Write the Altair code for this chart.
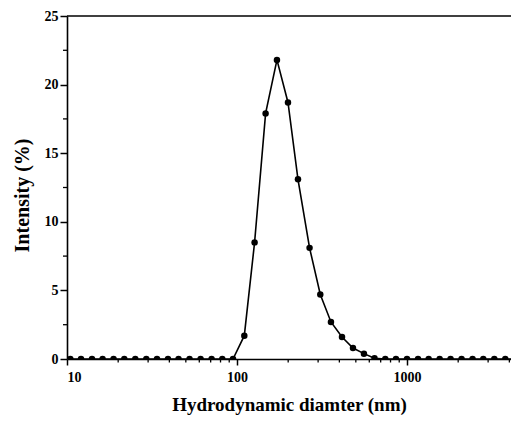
import altair as alt
import pandas as pd

sizes = [10.46, 12.09, 14.03, 16.20, 18.79, 21.73, 25.22, 29.27, 33.84, 39.26,
         45.30, 52.58, 61.07, 70.88, 81.94, 94.73, 110.4, 126.9, 147.3, 171.8,
         199.5, 228.4, 267.2, 309.0, 357.0, 414.6, 481.0, 558.0, 644.0, 745.0,
         861.0, 1000.0, 1161.0, 1341.0, 1556.0, 1804.0, 2094.0, 2430.0, 2810.0,
         3263.0, 3785.0, 4375.0]
intensity = [0, 0, 0, 0, 0, 0, 0, 0, 0, 0,
             0, 0, 0, 0, 0, 0, 1.7, 8.5, 17.9, 21.8,
             18.7, 13.1, 8.1, 4.7, 2.7, 1.6, 0.8, 0.39, 0.05, 0,
             0, 0, 0, 0, 0, 0, 0, 0, 0,
             0, 0, 0]

x_major = [10, 100, 1000]
x_minor = [20, 30, 40, 50, 60, 70, 80, 90, 200, 300, 400, 500, 600, 700, 800,
           900, 2000, 3000, 4000]
y_major = [0, 5, 10, 15, 20, 25]
y_minor = [2.5, 7.5, 12.5, 17.5, 22.5]

W, H = 444, 343
FONT = "Liberation Serif"

df = pd.DataFrame({"size": sizes, "intensity": intensity})
xscale = alt.Scale(type="log", domain=[10, 4090])
yscale = alt.Scale(domain=[0, 25])

base = alt.Chart(df)

line = base.mark_line(color="black", strokeWidth=1.6, clip=True).encode(
    x=alt.X("size:Q", scale=xscale,
            axis=alt.Axis(values=x_major, format="d", title="Hydrodynamic diamter (nm)",
                          tickSize=6, tickWidth=1.5, tickColor="black",
                          domainColor="black", domainWidth=1.6, grid=False,
                          labelFont=FONT, labelFontWeight="bold", labelFontSize=14,
                          labelColor="black", labelPadding=5,
                          titleFont=FONT, titleFontWeight="bold", titleFontSize=19,
                          titleColor="black", titlePadding=11)),
    y=alt.Y("intensity:Q", scale=yscale,
            axis=alt.Axis(values=y_major, title="Intensity (%)",
                          tickSize=7, tickWidth=1.5, tickColor="black",
                          domainColor="black", domainWidth=1.6, grid=False,
                          labelFont=FONT, labelFontWeight="bold", labelFontSize=14,
                          labelColor="black", labelPadding=2,
                          titleFont=FONT, titleFontWeight="bold", titleFontSize=20,
                          titleColor="black", titlePadding=12, titleY=179)),
)

points = base.mark_circle(color="black", opacity=1, size=42, clip=True).encode(
    x=alt.X("size:Q", scale=xscale),
    y=alt.Y("intensity:Q", scale=yscale),
)

xminor_df = pd.DataFrame({"v": x_minor})
xminor = alt.Chart(xminor_df).mark_rule(color="black", strokeWidth=1.3).encode(
    x=alt.X("v:Q", scale=xscale),
    y=alt.value(H),
    y2=alt.value(H + 3.5),
)

yminor_df = pd.DataFrame({"v": y_minor})
yminor = alt.Chart(yminor_df).mark_rule(color="black", strokeWidth=1.3).encode(
    y=alt.Y("v:Q", scale=yscale),
    x=alt.value(-4),
    x2=alt.value(0),
)

topline = alt.Chart(pd.DataFrame({"a": [0]})).mark_rule(color="black", strokeWidth=1.6).encode(
    x=alt.value(0), x2=alt.value(W), y=alt.value(0)
)

chart = alt.layer(line, points, xminor, yminor, topline).properties(
    width=W, height=H,
    autosize=alt.AutoSizeParams(type="none"),
    padding={"left": 59, "top": 8, "right": 0, "bottom": 56},
).configure_view(stroke=None)

chart.save("out.html", embed_options={"renderer": "svg", "actions": False})
